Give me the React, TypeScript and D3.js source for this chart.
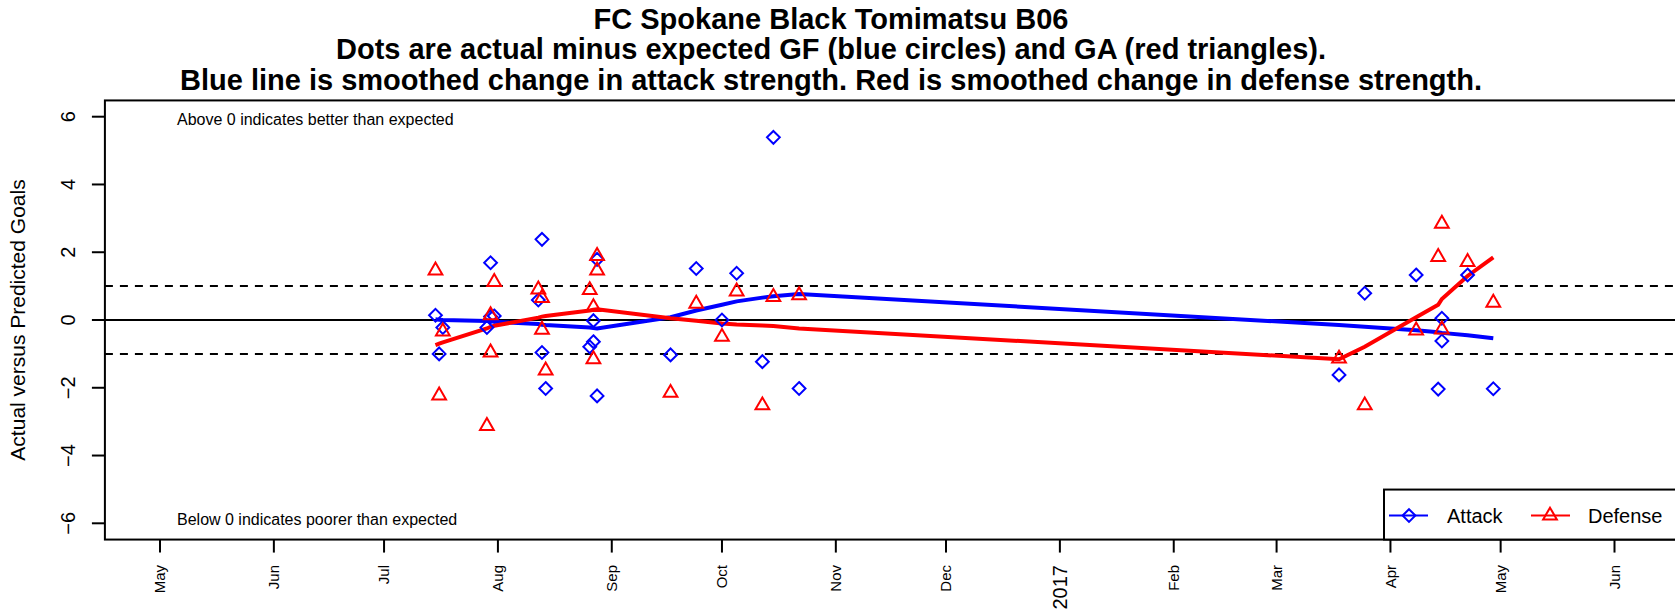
import { useRef, useEffect } from "react";
import * as d3 from "d3";

// games (actual minus expected)
const gameDates = [
  "2016-07-15", "2016-07-16", "2016-07-17",
  "2016-07-29", "2016-07-30", "2016-07-30", "2016-07-31",
  "2016-08-12", "2016-08-13", "2016-08-13", "2016-08-14",
  "2016-08-26", "2016-08-27", "2016-08-27", "2016-08-28", "2016-08-28",
  "2016-09-17", "2016-09-24", "2016-10-01", "2016-10-05", "2016-10-12", "2016-10-15", "2016-10-22",
  "2017-03-18", "2017-03-25", "2017-04-08", "2017-04-14", "2017-04-15", "2017-04-15", "2017-04-22", "2017-04-29",
];
const attack = [
  0.14, -1.0, -0.22,
  -0.22, 1.69, 0.1, 0.12,
  0.59, 2.38, -0.96, -2.02,
  -0.79, -0.02, -0.64, 1.79, -2.24,
  -1.03, 1.52, 0.0, 1.38, -1.23, 5.39, -2.02,
  -1.62, 0.79, 1.33, -2.04, 0.05, -0.62, 1.33, -2.03,
];
const defense = [
  1.52, -2.17, -0.28,
  -3.07, -0.9, 0.2, 1.18,
  0.96, 0.71, -0.23, -1.43,
  0.94, 0.44, -1.1, 1.95, 1.52,
  -2.09, 0.54, -0.44, 0.9, -2.46, 0.74, 0.79,
  -1.08, -2.46, -0.25, 1.92, 2.9, -0.22, 1.77, 0.57,
];

// smoothed lines, one value per distinct date
const smoothDates = [
  "2016-07-15", "2016-07-16", "2016-07-17", "2016-07-29", "2016-07-30", "2016-07-31",
  "2016-08-12", "2016-08-13", "2016-08-14", "2016-08-26", "2016-08-27", "2016-08-28",
  "2016-09-17", "2016-09-24", "2016-10-01", "2016-10-05", "2016-10-12", "2016-10-15", "2016-10-22",
  "2017-03-18", "2017-03-25", "2017-04-08", "2017-04-14", "2017-04-15", "2017-04-22", "2017-04-29",
];
const attackSmooth = [
  0.02, 0.01, 0.0, -0.03, -0.04, -0.05,
  -0.12, -0.14, -0.15, -0.22, -0.24, -0.25,
  0.08, 0.28, 0.45, 0.55, 0.66, 0.7, 0.77,
  -0.15, -0.2, -0.3, -0.36, -0.38, -0.45, -0.54,
];
const defenseSmooth = [
  -0.74, -0.7, -0.66, -0.25, -0.2, -0.17,
  0.07, 0.1, 0.12, 0.28, 0.3, 0.32,
  0.05, -0.02, -0.1, -0.13, -0.16, -0.18, -0.25,
  -1.16, -0.79, 0.08, 0.45, 0.62, 1.3, 1.85,
];

const yTicks = [-6, -4, -2, 0, 2, 4, 6];
const monthTicks = [
  "2016-05-01", "2016-06-01", "2016-07-01", "2016-08-01", "2016-09-01", "2016-10-01", "2016-11-01",
  "2016-12-01", "2017-01-01", "2017-02-01", "2017-03-01", "2017-04-01", "2017-05-01", "2017-06-01",
];
const titleLines = [
  "FC Spokane Black Tomimatsu B06",
  "Dots are actual minus expected GF (blue circles) and GA (red triangles).",
  "Blue line is smoothed change in attack strength. Red is smoothed change in defense strength.",
];

export default function App() {
  const chartRef = useRef<HTMLDivElement>(null);

  useEffect(() => {
    if (!chartRef.current) return;
    d3.select(chartRef.current).selectAll("*").remove();

    const width = 1675;
    const height = 614;
    const font = "'Liberation Sans', Arial, Helvetica, sans-serif";
    const parse = d3.timeParse("%Y-%m-%d");

    const svg = d3
      .select(chartRef.current)
      .append("svg")
      .attr("width", width)
      .attr("height", height)
      .style("position", "absolute")
      .style("left", "0px")
      .style("top", "0px")
      .style("font-family", font);

    const x = d3
      .scaleTime()
      .domain([parse("2016-05-01")!, parse("2017-06-01")!])
      .range([160, 1614.5]);
    const y = d3.scaleLinear().domain([-6, 6]).range([523.3, 116.7]);

    // plot box (right side runs off the page)
    const boxLeft = x(parse("2016-04-16")!);
    const boxRight = x(parse("2017-06-25")!);
    const boxTop = y(6.48);
    const boxBottom = y(-6.48);

    // title
    svg
      .append("g")
      .selectAll("text")
      .data(titleLines)
      .enter()
      .append("text")
      .attr("x", 831)
      .attr("y", (d, i) => 28.5 + i * 30.5)
      .attr("text-anchor", "middle")
      .attr("font-size", "29px")
      .attr("font-weight", "bold")
      .text((d) => d);

    // reference lines
    svg
      .append("line")
      .attr("x1", boxLeft)
      .attr("x2", boxRight)
      .attr("y1", y(0))
      .attr("y2", y(0))
      .attr("stroke", "#000")
      .attr("stroke-width", 2);

    [1, -1].forEach((v) => {
      svg
        .append("line")
        .attr("x1", boxLeft)
        .attr("x2", boxRight)
        .attr("y1", y(v))
        .attr("y2", y(v))
        .attr("stroke", "#000")
        .attr("stroke-width", 2)
        .attr("stroke-dasharray", "8,7");
    });

    // annotations inside the box
    svg
      .append("text")
      .attr("x", 177)
      .attr("y", 119)
      .attr("dy", "0.35em")
      .attr("font-size", "16px")
      .text("Above 0 indicates better than expected");
    svg
      .append("text")
      .attr("x", 177)
      .attr("y", 519)
      .attr("dy", "0.35em")
      .attr("font-size", "16px")
      .text("Below 0 indicates poorer than expected");

    // smoothed lines
    const smoothLine = (vals: number[]) =>
      d3
        .line<string>()
        .x((d) => x(parse(d)!))
        .y((d, i) => y(vals[i]))(smoothDates);

    svg
      .append("path")
      .attr("d", smoothLine(attackSmooth))
      .attr("fill", "none")
      .attr("stroke", "#0000ff")
      .attr("stroke-width", 4);
    svg
      .append("path")
      .attr("d", smoothLine(defenseSmooth))
      .attr("fill", "none")
      .attr("stroke", "#ff0000")
      .attr("stroke-width", 4);

    // marker shapes (R pch 5 and pch 2)
    const R = 5.1;
    const diamond = (cx: number, cy: number) => {
      const s = 1.253 * R;
      return `M${cx},${cy - s}L${cx + s},${cy}L${cx},${cy + s}L${cx - s},${cy}Z`;
    };
    const triangle = (cx: number, cy: number) => {
      const r = 1.555 * R;
      const xc = 1.347 * R;
      const yc = 0.7775 * R;
      return `M${cx},${cy - r}L${cx + xc},${cy + yc}L${cx - xc},${cy + yc}Z`;
    };

    svg
      .append("g")
      .selectAll("path")
      .data(gameDates)
      .enter()
      .append("path")
      .attr("d", (d, i) => diamond(x(parse(d)!), y(attack[i])))
      .attr("fill", "none")
      .attr("stroke", "#0000ff")
      .attr("stroke-width", 2);

    svg
      .append("g")
      .selectAll("path")
      .data(gameDates)
      .enter()
      .append("path")
      .attr("d", (d, i) => triangle(x(parse(d)!), y(defense[i]) + 2))
      .attr("fill", "none")
      .attr("stroke", "#ff0000")
      .attr("stroke-width", 2);

    // y axis
    const yAxis = svg.append("g");
    yAxis
      .selectAll("line")
      .data(yTicks)
      .enter()
      .append("line")
      .attr("x1", boxLeft - 13)
      .attr("x2", boxLeft)
      .attr("y1", (d) => y(d))
      .attr("y2", (d) => y(d))
      .attr("stroke", "#000")
      .attr("stroke-width", 2);
    yAxis
      .selectAll("text")
      .data(yTicks)
      .enter()
      .append("text")
      .attr("transform", (d) => `translate(68,${y(d)}) rotate(-90)`)
      .attr("dy", "0.35em")
      .attr("text-anchor", "middle")
      .attr("font-size", "20px")
      .text((d) => (d < 0 ? `\u2212${-d}` : `${d}`));

    svg
      .append("text")
      .attr("transform", `translate(18,${y(0)}) rotate(-90)`)
      .attr("dy", "0.35em")
      .attr("text-anchor", "middle")
      .attr("font-size", "21px")
      .text("Actual versus Predicted Goals");

    // x axis (months)
    const xAxis = svg.append("g");
    xAxis
      .selectAll("line")
      .data(monthTicks)
      .enter()
      .append("line")
      .attr("x1", (d) => x(parse(d)!))
      .attr("x2", (d) => x(parse(d)!))
      .attr("y1", boxBottom)
      .attr("y2", boxBottom + 13)
      .attr("stroke", "#000")
      .attr("stroke-width", 2);
    xAxis
      .selectAll("text")
      .data(monthTicks)
      .enter()
      .append("text")
      .attr("transform", (d) => `translate(${x(parse(d)!)},565) rotate(-90)`)
      .attr("dy", "0.35em")
      .attr("text-anchor", "end")
      .attr("font-size", (d) => (d.endsWith("01-01") ? "20px" : "15px"))
      .text((d) => {
        const dt = parse(d)!;
        return dt.getMonth() === 0 ? d3.timeFormat("%Y")(dt) : d3.timeFormat("%b")(dt);
      });

    // box
    svg
      .append("rect")
      .attr("x", boxLeft)
      .attr("y", boxTop)
      .attr("width", boxRight - boxLeft)
      .attr("height", boxBottom - boxTop)
      .attr("fill", "none")
      .attr("stroke", "#000")
      .attr("stroke-width", 2);

    // legend
    const legend = svg.append("g").attr("transform", `translate(1384,${boxBottom - 50})`);
    legend
      .append("rect")
      .attr("width", 320)
      .attr("height", 50)
      .attr("fill", "#fff")
      .attr("stroke", "#000")
      .attr("stroke-width", 2);

    legend
      .append("line")
      .attr("x1", 5)
      .attr("x2", 44)
      .attr("y1", 26)
      .attr("y2", 26)
      .attr("stroke", "#0000ff")
      .attr("stroke-width", 2);
    legend
      .append("path")
      .attr("d", diamond(25, 26))
      .attr("fill", "none")
      .attr("stroke", "#0000ff")
      .attr("stroke-width", 2);
    legend
      .append("text")
      .attr("x", 63)
      .attr("y", 26)
      .attr("dy", "0.35em")
      .attr("font-size", "20px")
      .text("Attack");

    legend
      .append("line")
      .attr("x1", 147)
      .attr("x2", 186)
      .attr("y1", 26)
      .attr("y2", 26)
      .attr("stroke", "#ff0000")
      .attr("stroke-width", 2);
    legend
      .append("path")
      .attr("d", triangle(166, 26))
      .attr("fill", "none")
      .attr("stroke", "#ff0000")
      .attr("stroke-width", 2);
    legend
      .append("text")
      .attr("x", 204)
      .attr("y", 26)
      .attr("dy", "0.35em")
      .attr("font-size", "20px")
      .text("Defense");
  }, []);

  return (
    <div>
      <div ref={chartRef}></div>
    </div>
  );
}
